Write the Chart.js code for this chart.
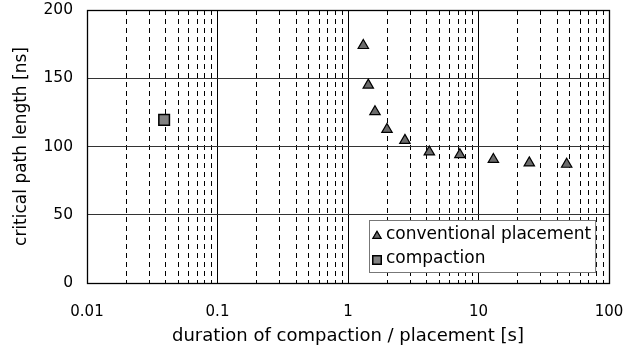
<!DOCTYPE html>
<html>
<head>
<meta charset="utf-8">
<script src="https://cdn.jsdelivr.net/npm/chart.js@4.4.0/dist/chart.umd.min.js"></script>
<style>
  html, body { margin: 0; padding: 0; background: #fff; }
  #wrap { width: 627px; height: 352px; }
</style>
</head>
<body>
<div id="wrap"><canvas id="pathChart"></canvas></div>
<script>
// durations in seconds, critical path length in ns
const conventionalDuration = [1.31, 1.43, 1.61, 1.99, 2.73, 4.2, 7.2, 13.0, 24.5, 47.4];
const conventionalPathLength = [174, 145, 125.5, 112.5, 104.5, 96, 94, 90.5, 88, 87];
const compactionDuration = [0.039];
const compactionPathLength = [119.5];
const xDecades = [0.01, 0.1, 1, 10, 100];
const yTicks = [0, 50, 100, 150, 200];

const FONT = "'DejaVu Sans', 'Open Sans', sans-serif";

function toPoints(xs, ys) {
  return xs.map(function (x, i) { return { x: x, y: ys[i] }; });
}

function isDecade(v) {
  const l = Math.log10(v);
  return Math.abs(l - Math.round(l)) < 1e-6;
}

// frame around the plot area
const framePlugin = {
  id: "frame",
  beforeDatasetsDraw(chart) {
    const a = chart.chartArea;
    const c = chart.ctx;
    c.save();
    c.strokeStyle = "#000";
    c.lineWidth = 1.3;
    c.strokeRect(Math.round(a.left) + 0.5, Math.round(a.top) + 0.5,
      Math.round(a.right - a.left), Math.round(a.bottom - a.top));
    c.restore();
  },
};

// legend box drawn inside the plot, lower right
const boxLegend = {
  id: "boxLegend",
  afterDraw(chart) {
    const a = chart.chartArea;
    const c = chart.ctx;
    const sets = chart.data.datasets;
    c.save();
    c.font = "17px " + FONT;
    let tw = 0;
    sets.forEach(function (d) { tw = Math.max(tw, c.measureText(d.label).width); });
    const rowH = 24;
    const w = tw + 21;
    const h = sets.length * rowH + 4;
    const x0 = Math.round(a.right - 14 - w);
    const y0 = Math.round(a.bottom - 11 - h);
    c.fillStyle = "#fff";
    c.fillRect(x0, y0, w, h);
    c.strokeStyle = "#777";
    c.lineWidth = 1;
    c.strokeRect(x0 + 0.5, y0 + 0.5, w, h);
    sets.forEach(function (d, i) {
      const cy = y0 + 15 + i * rowH;
      Chart.helpers.drawPoint(c, {
        pointStyle: d.pointStyle,
        radius: d.pointRadius * 0.8,
        borderWidth: d.pointBorderWidth,
        rotation: 0,
      }, x0 + 8, cy + 1);
      c.fillStyle = d.pointBackgroundColor;
      c.strokeStyle = "#000";
      c.lineWidth = d.pointBorderWidth;
      c.fill();
      c.stroke();
      c.fillStyle = "#000";
      c.textBaseline = "middle";
      c.fillText(d.label, x0 + 17, cy);
    });
    c.restore();
  },
};

const ctx = document.getElementById("pathChart").getContext("2d");
const pathChart = new Chart(ctx, {
  type: "scatter",
  data: {
    datasets: [
      {
        label: "conventional placement",
        data: toPoints(conventionalDuration, conventionalPathLength),
        pointStyle: "triangle",
        pointRadius: 6,
        pointBackgroundColor: "#6b6b6b",
        pointBorderColor: "#000",
        pointBorderWidth: 1.2,
      },
      {
        label: "compaction",
        data: toPoints(compactionDuration, compactionPathLength),
        pointStyle: "rect",
        pointRadius: 7.5,
        pointBackgroundColor: "#828282",
        pointBorderColor: "#000",
        pointBorderWidth: 1.5,
      },
    ],
  },
  options: {
    responsive: true,
    maintainAspectRatio: false,
    animation: false,
    layout: { padding: 0 },
    plugins: {
      legend: { display: false },
      tooltip: { enabled: false },
    },
    scales: {
      x: {
        type: "logarithmic",
        min: xDecades[0],
        max: xDecades[xDecades.length - 1],
        afterBuildTicks(scale) {
          const ticks = [];
          for (let i = 0; i < xDecades.length - 1; i++) {
            for (let m = 1; m < 10; m++) ticks.push({ value: m * xDecades[i] });
          }
          ticks.push({ value: xDecades[xDecades.length - 1] });
          scale.ticks = ticks;
        },
        afterFit(scale) {
          scale.height = 69;
          scale.paddingLeft = 0;
          scale.paddingRight = 18;
        },
        ticks: {
          autoSkip: false,
          maxRotation: 0,
          padding: 20,
          color: "#000",
          font: { family: FONT, size: 15 },
          callback(value) {
            return isDecade(value) ? String(+value.toPrecision(3)) : "";
          },
        },
        grid: {
          drawTicks: false,
          color: "#000",
          lineWidth: 1,
        },
        border: {
          display: false,
          dash(c) {
            if (!c.tick) return [];
            return isDecade(c.tick.value) ? [] : [5, 4];
          },
        },
        title: {
          display: true,
          text: "duration of compaction / placement [s]",
          color: "#000",
          font: { family: FONT, size: 18 },
          padding: { top: 0, bottom: 5 },
        },
      },
      y: {
        min: yTicks[0],
        max: yTicks[yTicks.length - 1],
        afterBuildTicks(scale) {
          scale.ticks = yTicks.map(function (v) { return { value: v }; });
        },
        afterFit(scale) {
          scale.width = 87;
          scale.paddingTop = 10;
          scale.paddingBottom = 0;
        },
        ticks: {
          padding: 14,
          color: "#000",
          font: { family: FONT, size: 15.5 },
        },
        grid: {
          drawTicks: false,
          color: "#333",
          lineWidth: 1,
        },
        border: { display: false },
        title: {
          display: true,
          text: "critical path length [ns]",
          color: "#000",
          font: { family: FONT, size: 17 },
          padding: { top: 11, bottom: 0 },
        },
      },
    },
  },
  plugins: [framePlugin, boxLegend],
});
</script>
</body>
</html>
